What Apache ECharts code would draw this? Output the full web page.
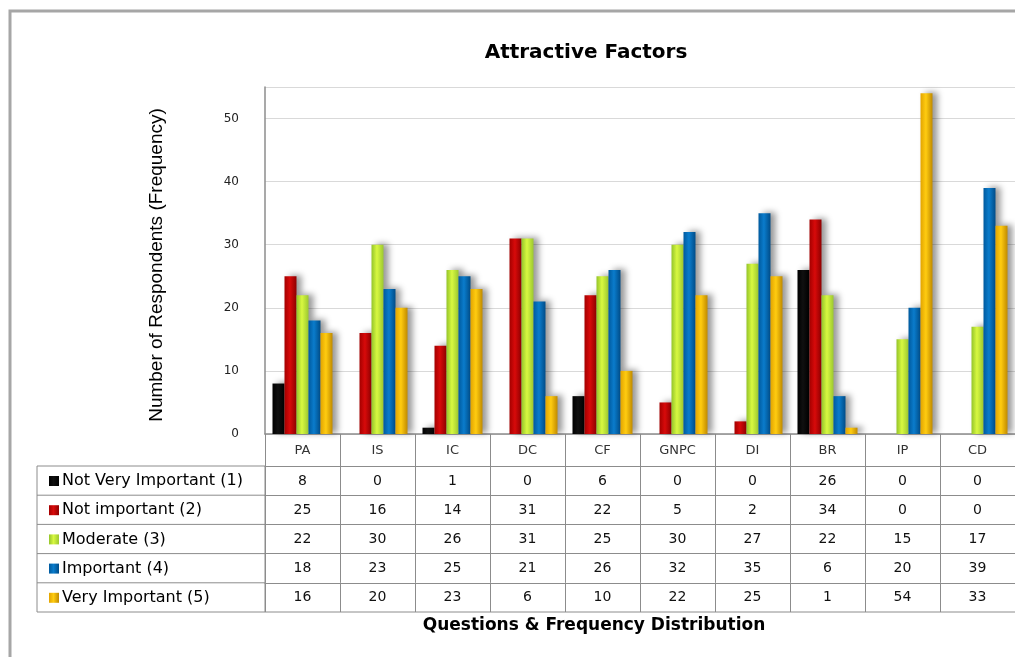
<!DOCTYPE html>
<html><head><meta charset="utf-8">
<script src="https://cdn.jsdelivr.net/npm/echarts@6/dist/echarts.min.js"></script>
<style>html,body{margin:0;padding:0;background:#fff}#c{width:1015px;height:657px}</style>
</head><body><div id="c"></div>
<script>
const categories = ['PA','IS','IC','DC','CF','GNPC','DI','BR','IP','CD'];
const seriesNames = ['Not Very Important (1)','Not important (2)','Moderate (3)','Important (4)','Very Important (5)'];
const notVeryImportant = [8,0,1,0,6,0,0,26,0,0];
const notImportant = [25,16,14,31,22,5,2,34,0,0];
const moderate = [22,30,26,31,25,30,27,22,15,17];
const important = [18,23,25,21,26,32,35,6,20,39];
const veryImportant = [16,20,23,6,10,22,25,1,54,33];
const seriesValues = [notVeryImportant, notImportant, moderate, important, veryImportant];

const grad = (a,b,c) => ({type:'linear',x:0,y:0,x2:1,y2:0,colorStops:[{offset:0,color:a},{offset:0.45,color:b},{offset:1,color:c}]});
const fills = [
  grad('#000000','#101010','#000000'),
  grad('#a40000','#d80a0a','#8e0000'),
  grad('#94c42a','#d8f840','#9cc830'),
  grad('#005a9e','#0a7ccc','#004c88'),
  grad('#e2a400','#ffcc10','#c08a00')
];

const GRID_LEFT = 265, GRID_TOP = 87, GRID_H = 347, GRID_W = 755;
const ROW0 = 466, ROW_H = 29.2;
const lineCol = '#8c8c8c';
const tblFont = 'DejaVu Sans';

const xAxes = [{
  type:'category', data:categories, gridIndex:0, position:'bottom',
  axisLine:{lineStyle:{color:lineCol,width:1.5}},
  axisTick:{show:true,interval:0,length:ROW0-(GRID_TOP+GRID_H),lineStyle:{color:lineCol}},
  axisLabel:{interval:0,margin:10,color:'#333',fontFamily:tblFont,fontSize:13}
}];
seriesValues.forEach((vals,i)=>{
  xAxes.push({
    type:'category', data:vals.map(String), gridIndex:0, position:'bottom',
    offset: ROW0-(GRID_TOP+GRID_H) + i*ROW_H,
    axisLine:{show:true,lineStyle:{color:lineCol,width:1}},
    axisTick:{show:true,interval:0,length:ROW_H,lineStyle:{color:lineCol}},
    axisLabel:{interval:0,margin:8,color:'#111',fontFamily:tblFont,fontSize:14}
  });
});

const series = seriesValues.map((vals,i)=>({
  name:seriesNames[i], type:'bar', xAxisIndex:0, yAxisIndex:0,
  data:vals, barWidth:12, barGap:'0%',
  itemStyle:{color:fills[i], shadowColor:'rgba(0,0,0,0.4)', shadowBlur:6, shadowOffsetX:5, shadowOffsetY:-1},
  emphasis:{disabled:true}, animation:false
}));

const tblBottom = ROW0 + 5*ROW_H;
const graphics = [
  {type:'rect', shape:{x:10,y:11,width:1100,height:700}, style:{fill:'none',stroke:'#a6a6a6',lineWidth:3}, silent:true},
  {type:'line', shape:{x1:37,y1:ROW0,x2:37,y2:tblBottom}, style:{stroke:lineCol,lineWidth:1}},
  {type:'line', shape:{x1:GRID_LEFT,y1:ROW0,x2:GRID_LEFT,y2:tblBottom}, style:{stroke:lineCol,lineWidth:1}},
  {type:'line', shape:{x1:GRID_LEFT,y1:tblBottom,x2:1015,y2:tblBottom}, style:{stroke:lineCol,lineWidth:1}},
  {type:'text', x:594, y:617, style:{text:'Questions & Frequency Distribution',
    font:'bold 17px "DejaVu Sans"', fill:'#000', textAlign:'center'}},
  {type:'text', x:157, y:265, rotation:Math.PI/2, style:{text:'Number of Respondents (Frequency)',
    font:'19px "Liberation Sans"', fill:'#000', textAlign:'center', textVerticalAlign:'middle'}}
];
for(let i=0;i<=5;i++){
  graphics.push({type:'line', shape:{x1:37,y1:ROW0+i*ROW_H,x2:GRID_LEFT,y2:ROW0+i*ROW_H}, style:{stroke:lineCol,lineWidth:1}});
}

const chart = echarts.init(document.getElementById('c'), null, {renderer:'canvas'});
chart.setOption({
  animation:false,
  backgroundColor:'#fff',
  title:{text:'Attractive Factors', left:581, top:38, textAlign:'center',
    textStyle:{fontFamily:'DejaVu Sans',fontWeight:'bold',fontSize:20,color:'#000'}},
  legend:{data:seriesNames, orient:'vertical', left:44, top:ROW0+2, itemWidth:10, itemHeight:10,
    itemGap:ROW_H-16, icon:'rect',
    textStyle:{fontFamily:tblFont,fontSize:16,color:'#000',lineHeight:16,padding:[0,0,0,-2]}, selectedMode:false},
  grid:{left:GRID_LEFT, top:GRID_TOP, width:GRID_W, height:GRID_H, containLabel:false},
  xAxis:xAxes,
  yAxis:{type:'value', min:0, max:55, interval:10,
    axisLine:{show:true,lineStyle:{color:lineCol,width:1.5}},
    axisTick:{show:false},
    axisLabel:{margin:26,color:'#222',fontFamily:tblFont,fontSize:12,showMaxLabel:false},
    splitLine:{lineStyle:{color:'#d9d9d9'}}},
  series:series,
  graphic:graphics
});
</script></body></html>
